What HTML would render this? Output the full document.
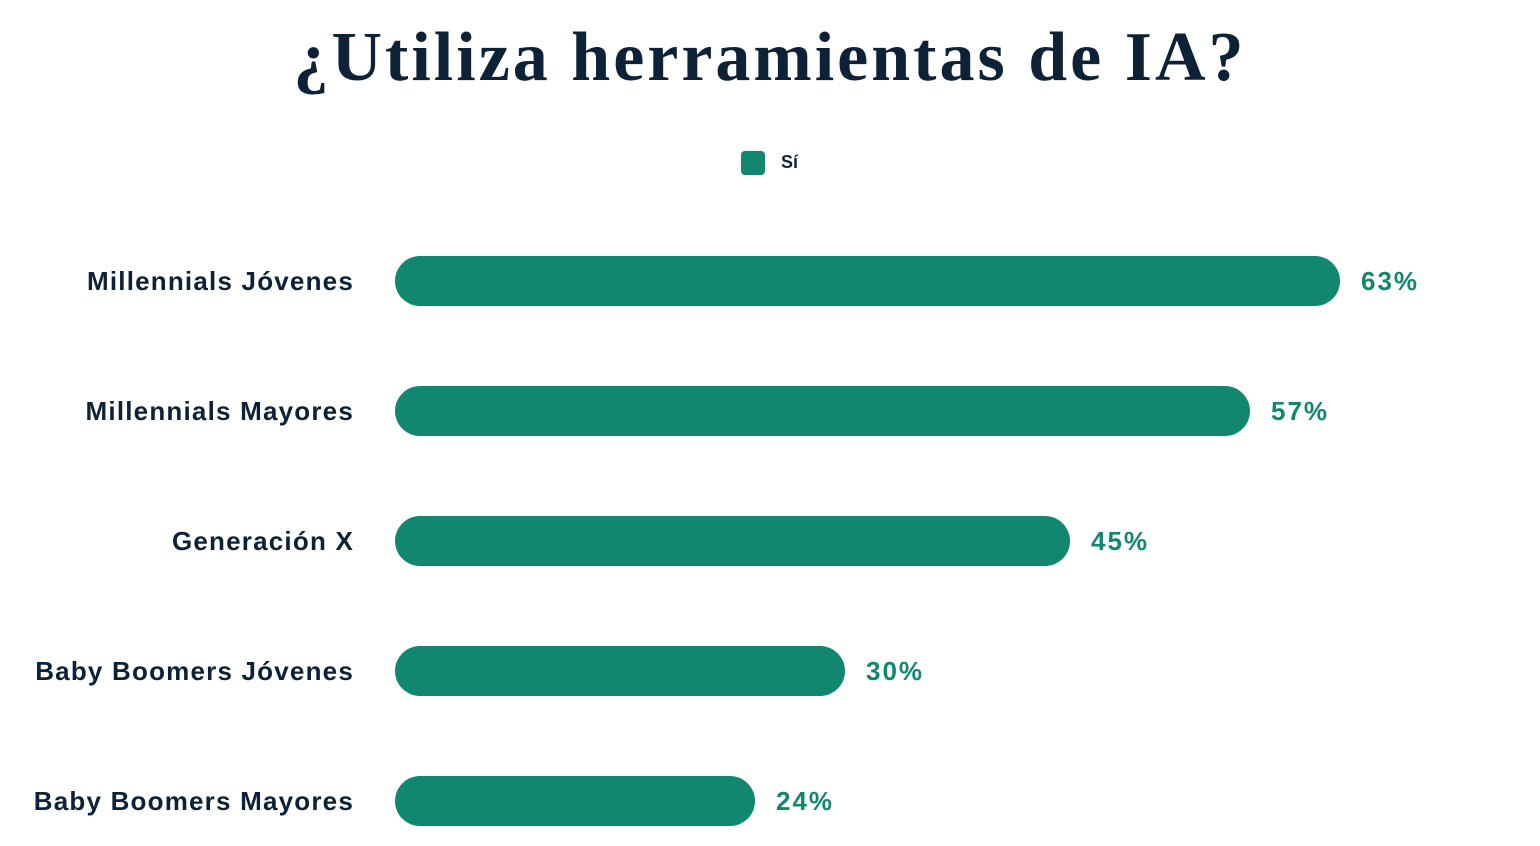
<!DOCTYPE html>
<html><head><meta charset="utf-8"><style>
body{margin:0;width:1540px;height:846px;background:#fff;position:relative;overflow:hidden;font-family:"Liberation Sans",sans-serif}
.t{position:absolute;left:0;width:1540px;top:18px;text-align:center;font-family:"Liberation Serif",serif;font-weight:bold;font-size:70px;letter-spacing:3px;color:#0d2236}
.lg{position:absolute;left:741px;top:151px;width:24px;height:24px;border-radius:4px;background:#12876f}
.lt{position:absolute;left:781px;top:152px;font-size:18px;font-weight:bold;color:#0d2236}
.l{position:absolute;right:1186px;font-size:26px;font-weight:bold;letter-spacing:1.2px;color:#0d2236;line-height:30px;white-space:nowrap}
.b{position:absolute;left:395px;height:50px;border-radius:25px;background:#12876f}
.v{position:absolute;font-size:26px;font-weight:bold;letter-spacing:2px;color:#12876f;line-height:30px}
</style></head><body>
<div class="t">¿Utiliza herramientas de IA?</div>
<div class="lg"></div><div class="lt">Sí</div>
<div class="l" style="top:266px">Millennials Jóvenes</div><div class="b" style="top:256px;width:945px"></div><div class="v" style="top:266px;left:1361px">63%</div>
<div class="l" style="top:396px">Millennials Mayores</div><div class="b" style="top:386px;width:855px"></div><div class="v" style="top:396px;left:1271px">57%</div>
<div class="l" style="top:526px">Generación X</div><div class="b" style="top:516px;width:675px"></div><div class="v" style="top:526px;left:1091px">45%</div>
<div class="l" style="top:656px">Baby Boomers Jóvenes</div><div class="b" style="top:646px;width:450px"></div><div class="v" style="top:656px;left:866px">30%</div>
<div class="l" style="top:786px">Baby Boomers Mayores</div><div class="b" style="top:776px;width:360px"></div><div class="v" style="top:786px;left:776px">24%</div>
</body></html>
